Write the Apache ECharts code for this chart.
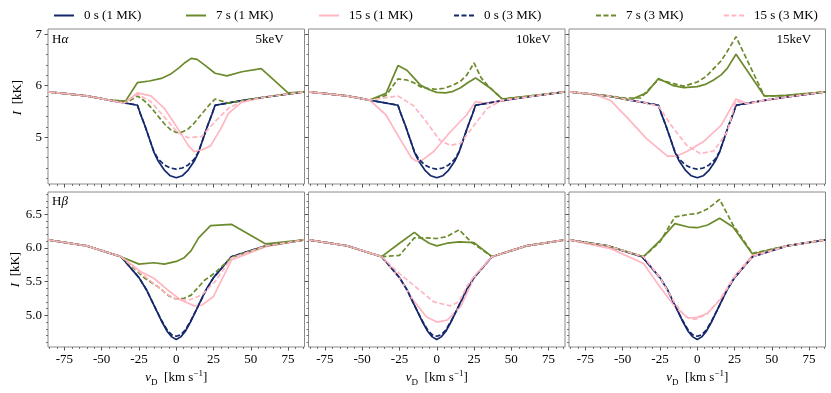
<!DOCTYPE html>
<html><head><meta charset="utf-8">
<script src="https://cdn.jsdelivr.net/npm/echarts@6/dist/echarts.min.js"></script>
<style>html,body{margin:0;padding:0;background:#fff}#c{width:831px;height:393px}</style>
</head><body><div id="c"></div>
<script>
// ---------- DATA: [v_D (km/s), I (kK)] ----------
// H-alpha, pre-flare (same in all columns)
const ha_0s_1MK = [[-86,5.88],[-60,5.80],[-45,5.72],[-26,5.62],[-24,5.45],[-21,5.22],[-18,4.97],[-15,4.71],[-12,4.53],[-8,4.36],[-4,4.25],[0,4.21],[4,4.25],[8,4.36],[12,4.53],[15,4.71],[18,4.97],[21,5.22],[24,5.45],[26,5.62],[44,5.71],[60,5.78],[86,5.88]];
const ha_0s_3MK = [[-86,5.88],[-60,5.80],[-45,5.72],[-26,5.62],[-24,5.45],[-21,5.22],[-18,4.97],[-15,4.72],[-12,4.57],[-8,4.46],[-4,4.40],[0,4.38],[4,4.40],[8,4.46],[12,4.57],[15,4.72],[18,4.97],[21,5.22],[24,5.45],[26,5.62],[44,5.71],[60,5.78],[86,5.88]];
// H-alpha 5 keV
const ha5_7s_1MK = [[-86,5.88],[-60,5.80],[-45,5.72],[-34,5.70],[-26,6.06],[-18,6.09],[-10,6.14],[-4,6.22],[2,6.35],[6,6.45],[10,6.53],[14,6.51],[20,6.38],[26,6.24],[34,6.19],[44,6.27],[57,6.33],[75,5.86],[86,5.88]];
const ha5_7s_3MK = [[-86,5.88],[-60,5.80],[-45,5.72],[-32,5.69],[-26,5.80],[-22,5.72],[-17,5.58],[-12,5.40],[-8,5.26],[-4,5.15],[0,5.09],[4,5.10],[8,5.16],[12,5.27],[17,5.45],[22,5.62],[26,5.74],[35,5.66],[44,5.71],[60,5.78],[86,5.88]];
const ha5_15s_1MK = [[-86,5.88],[-60,5.80],[-45,5.72],[-35,5.66],[-26,5.86],[-17,5.80],[-8,5.56],[1,5.17],[8,4.84],[12,4.72],[17,4.75],[23,4.83],[30,5.17],[35,5.46],[44,5.68],[60,5.78],[86,5.88]];
const ha5_15s_3MK = [[-86,5.88],[-60,5.80],[-45,5.72],[-35,5.66],[-26,5.83],[-17,5.69],[-8,5.39],[1,5.09],[8,4.99],[17,5.01],[26,5.30],[35,5.56],[44,5.69],[60,5.78],[86,5.88]];
// H-alpha 10 keV
const ha10_7s_1MK = [[-86,5.88],[-60,5.80],[-45,5.72],[-34,5.85],[-26,6.39],[-20,6.30],[-15,6.14],[-11,6.01],[-5,5.92],[0,5.87],[6,5.86],[11,5.89],[16,5.96],[21,6.06],[26,6.15],[30,6.07],[36,5.95],[44,5.74],[60,5.79],[86,5.88]];
const ha10_7s_3MK = [[-86,5.88],[-60,5.80],[-45,5.72],[-34,5.81],[-26,6.13],[-20,6.11],[-15,6.05],[-11,5.98],[-5,5.94],[0,5.93],[5,5.95],[11,6.01],[16,6.09],[20,6.20],[25,6.44],[30,6.14],[36,5.95],[44,5.74],[60,5.79],[86,5.88]];
const ha10_15s_1MK = [[-86,5.88],[-60,5.80],[-45,5.72],[-34,5.43],[-25,4.98],[-17,4.60],[-14,4.54],[-10,4.55],[-2,4.72],[9,5.10],[20,5.43],[26,5.69],[34,5.65],[44,5.71],[60,5.78],[86,5.88]];
const ha10_15s_3MK = [[-86,5.88],[-60,5.80],[-45,5.72],[-26,5.80],[-16,5.62],[-7,5.30],[2,4.94],[9,4.84],[16,4.88],[25,5.23],[34,5.56],[44,5.72],[60,5.78],[86,5.88]];
// H-alpha 15 keV
const ha15_7s_1MK = [[-86,5.88],[-60,5.80],[-45,5.72],[-34,5.86],[-26,6.14],[-16,6.00],[-9,5.96],[0,5.98],[6,6.03],[11,6.11],[16,6.21],[20,6.33],[26,6.61],[34,6.27],[45,5.80],[52,5.80],[60,5.81],[86,5.88]];
const ha15_7s_3MK = [[-86,5.88],[-60,5.80],[-48,5.76],[-38,5.76],[-26,6.12],[-16,6.04],[-9,5.99],[0,6.07],[6,6.18],[11,6.33],[16,6.48],[20,6.66],[26,6.95],[34,6.46],[45,5.80],[52,5.80],[60,5.81],[86,5.88]];
const ha15_15s_1MK = [[-86,5.88],[-70,5.84],[-58,5.71],[-47,5.38],[-34,4.97],[-20,4.63],[-14,4.63],[-7,4.72],[4,4.91],[16,5.23],[26,5.74],[34,5.65],[44,5.71],[60,5.78],[86,5.88]];
const ha15_15s_3MK = [[-86,5.88],[-60,5.80],[-45,5.72],[-34,5.66],[-26,5.60],[-25,5.56],[-16,5.17],[-7,4.84],[2,4.68],[11,4.73],[20,5.10],[26,5.70],[34,5.65],[44,5.71],[60,5.78],[86,5.88]];
// H-beta, pre-flare
const hb_0s_1MK = [[-86,6.12],[-60,6.03],[-37,5.87],[-25,5.56],[-20,5.38],[-15,5.15],[-10,4.92],[-6,4.76],[-3,4.68],[0,4.64],[3,4.68],[6,4.76],[10,4.92],[15,5.15],[20,5.38],[25,5.56],[37,5.87],[60,6.03],[86,6.12]];
const hb_0s_3MK = [[-86,6.12],[-60,6.03],[-37,5.87],[-25,5.56],[-20,5.38],[-15,5.15],[-10,4.93],[-6,4.78],[-3,4.71],[0,4.69],[3,4.71],[6,4.78],[10,4.93],[15,5.15],[20,5.38],[25,5.56],[37,5.87],[60,6.03],[86,6.12]];
// H-beta 5 keV
const hb5_7s_1MK = [[-86,6.12],[-60,6.03],[-37,5.87],[-25,5.76],[-15,5.78],[-8,5.76],[0,5.80],[5,5.85],[10,5.96],[15,6.15],[23,6.33],[37,6.35],[60,6.06],[86,6.12]];
const hb5_7s_3MK = [[-86,6.12],[-60,6.03],[-37,5.87],[-21,5.55],[-12,5.42],[-5,5.29],[0,5.24],[5,5.25],[10,5.30],[19,5.52],[26,5.63],[37,5.86],[60,6.03],[86,6.12]];
const hb5_15s_1MK = [[-86,6.12],[-60,6.03],[-37,5.87],[-24,5.65],[-15,5.55],[-6,5.38],[3,5.23],[12,5.14],[17,5.15],[25,5.28],[37,5.82],[60,6.02],[86,6.12]];
const hb5_15s_3MK = [[-86,6.12],[-60,6.03],[-37,5.87],[-24,5.63],[-15,5.47],[-6,5.31],[0,5.24],[8,5.22],[17,5.30],[26,5.50],[37,5.85],[60,6.03],[86,6.12]];
// H-beta 10 keV
const hb10_7s_1MK = [[-86,6.12],[-60,6.03],[-37,5.87],[-25,6.07],[-15,6.23],[-10,6.14],[-5,6.07],[0,6.03],[7,6.07],[15,6.09],[25,6.08],[37,5.87],[60,6.03],[86,6.12]];
const hb10_7s_3MK = [[-86,6.12],[-60,6.03],[-37,5.87],[-25,5.89],[-15,6.15],[-8,6.15],[0,6.14],[7,6.17],[15,6.27],[23,6.09],[37,5.87],[60,6.03],[86,6.12]];
const hb10_15s_1MK = [[-86,6.12],[-60,6.03],[-37,5.87],[-25,5.55],[-16,5.23],[-7,4.98],[0,4.90],[7,4.93],[16,5.13],[25,5.56],[37,5.87],[60,6.03],[86,6.12]];
const hb10_15s_3MK = [[-86,6.12],[-60,6.03],[-37,5.87],[-25,5.62],[-13,5.40],[-2,5.20],[9,5.14],[15,5.20],[20,5.42],[25,5.58],[37,5.87],[60,6.03],[86,6.12]];
// H-beta 15 keV
const hb15_7s_1MK = [[-86,6.12],[-60,6.03],[-36,5.87],[-25,6.11],[-15,6.36],[-6,6.31],[0,6.30],[7,6.34],[15,6.44],[24,6.31],[37,5.91],[60,6.03],[86,6.12]];
const hb15_7s_3MK = [[-86,6.12],[-60,6.03],[-36,5.87],[-25,6.09],[-15,6.46],[-5,6.50],[0,6.51],[7,6.58],[15,6.72],[24,6.34],[37,5.92],[60,6.03],[86,6.12]];
const hb15_15s_1MK = [[-86,6.12],[-58,5.99],[-36,5.77],[-25,5.42],[-15,5.13],[-6,4.96],[0,4.97],[7,5.03],[16,5.25],[25,5.58],[37,5.89],[60,6.03],[86,6.12]];
const hb15_15s_3MK = [[-86,6.12],[-60,6.03],[-36,5.87],[-25,5.56],[-15,5.18],[-8,4.98],[-3,4.94],[0,4.95],[6,5.01],[15,5.23],[25,5.57],[37,5.87],[60,6.03],[86,6.12]];

const SERIES_NAMES = ['0 s (1 MK)','7 s (1 MK)','15 s (1 MK)','0 s (3 MK)','7 s (3 MK)','15 s (3 MK)'];
const PANEL_LABELS = ['5keV','10keV','15keV'];
const X_TICKS = [-75,-50,-25,0,25,50,75];
const X_MINOR = [-85,-80,-70,-65,-60,-55,-45,-40,-35,-30,-20,-15,-10,-5,5,10,15,20,30,35,40,45,55,60,65,70,80,85];
const YA_TICKS = [5,6,7];
const YA_MINOR = [4.2,4.4,4.6,4.8,5.2,5.4,5.6,5.8,6.2,6.4,6.6,6.8];
const YB_TICKS = [5.0,5.5,6.0,6.5];
const YB_MINOR = [4.6,4.7,4.8,4.9,5.1,5.2,5.3,5.4,5.6,5.7,5.8,5.9,6.1,6.2,6.3,6.4,6.6,6.7,6.8];

const PANELS = [
  [ha_0s_1MK, ha5_7s_1MK, ha5_15s_1MK, ha_0s_3MK, ha5_7s_3MK, ha5_15s_3MK],
  [ha_0s_1MK, ha10_7s_1MK, ha10_15s_1MK, ha_0s_3MK, ha10_7s_3MK, ha10_15s_3MK],
  [ha_0s_1MK, ha15_7s_1MK, ha15_15s_1MK, ha_0s_3MK, ha15_7s_3MK, ha15_15s_3MK],
  [hb_0s_1MK, hb5_7s_1MK, hb5_15s_1MK, hb_0s_3MK, hb5_7s_3MK, hb5_15s_3MK],
  [hb_0s_1MK, hb10_7s_1MK, hb10_15s_1MK, hb_0s_3MK, hb10_7s_3MK, hb10_15s_3MK],
  [hb_0s_1MK, hb15_7s_1MK, hb15_15s_1MK, hb_0s_3MK, hb15_7s_3MK, hb15_15s_3MK]
];

// ---------- STYLE / LAYOUT ----------
const FONT = '"Liberation Serif", "DejaVu Serif", serif';
const COLORS = ['#14286b', '#6b8a2b', '#ffb6c1', '#14286b', '#6b8a2b', '#ffb6c1'];
const DASHED = [false, false, false, true, true, true];
const GL = [48, 308.5, 569], GW = 256.5;
const GT = [29, 192], GH = 155;
const YR = [[4.09, 7.1], [4.53, 6.83]];
const FRAME = '#8a8a8a', TICK = '#555';

const grids = [], xAxes = [], yAxes = [], series = [], graphics = [];
for (let p = 0; p < 6; p++) {
  const row = Math.floor(p / 3), col = p % 3;
  grids.push({left: GL[col], top: GT[row], width: GW, height: GH, show: true, borderColor: FRAME, borderWidth: 1, containLabel: false, outerBoundsMode: 'none'});
  const showXL = row === 1, showYL = col === 0;
  const xi = xAxes.length, yi = yAxes.length;
  xAxes.push({
    type: 'value', gridIndex: p, min: -86, max: 86, position: 'bottom',
    axisLine: {show: false, onZero: false}, splitLine: {show: false},
    axisTick: {show: true, inside: false, length: 3.5, customValues: X_TICKS, lineStyle: {color: TICK, width: 1}},
    axisLabel: {show: showXL, customValues: X_TICKS, margin: 6, color: '#000', fontFamily: FONT, fontSize: 13},
    name: showXL ? '{i|v}{sub|D}  [km s{sup|−1}]' : '', nameLocation: 'middle', nameGap: 22,
    nameTextStyle: {color: '#000', fontFamily: FONT, fontSize: 13, lineHeight: 18,
      rich: {i: {fontStyle: 'italic', fontFamily: FONT, fontSize: 13, lineHeight: 18},
             sub: {fontFamily: FONT, fontSize: 9, lineHeight: 9, verticalAlign: 'bottom'},
             sup: {fontFamily: FONT, fontSize: 9, lineHeight: 9, verticalAlign: 'top'}}}
  });
  xAxes.push({
    type: 'value', gridIndex: p, min: -86, max: 86, position: 'bottom',
    axisLine: {show: false, onZero: false}, splitLine: {show: false}, axisLabel: {show: false},
    axisTick: {show: true, inside: false, length: 2, customValues: X_MINOR, lineStyle: {color: TICK, width: 0.8}}
  });
  const yt = row === 0 ? YA_TICKS : YB_TICKS, ym = row === 0 ? YA_MINOR : YB_MINOR;
  yAxes.push({
    type: 'value', gridIndex: p, min: YR[row][0], max: YR[row][1], position: 'left',
    axisLine: {show: false, onZero: false}, splitLine: {show: false},
    axisTick: {show: true, inside: false, length: 3.5, customValues: yt, lineStyle: {color: TICK, width: 1}},
    axisLabel: {show: showYL, customValues: yt, margin: 6, color: '#000', fontFamily: FONT, fontSize: 13,
      formatter: v => row === 0 ? String(Math.round(v)) : v.toFixed(1)},
    name: showYL ? '{i|I}  [kK]' : '', nameLocation: 'middle', nameGap: 24, nameRotate: 90,
    nameTextStyle: {color: '#000', fontFamily: FONT, fontSize: 13, padding: row === 0 ? [0, 0, 0, 18] : 0,
      rich: {i: {fontStyle: 'italic', fontFamily: FONT, fontSize: 13}}}
  });
  yAxes.push({
    type: 'value', gridIndex: p, min: YR[row][0], max: YR[row][1], position: 'left',
    axisLine: {show: false, onZero: false}, splitLine: {show: false}, axisLabel: {show: false},
    axisTick: {show: true, inside: false, length: 2, customValues: ym, lineStyle: {color: TICK, width: 0.8}}
  });
  PANELS[p].forEach((d, k) => {
    series.push({
      type: 'line', name: SERIES_NAMES[k], xAxisIndex: xi, yAxisIndex: yi, data: d,
      symbol: 'none', silent: true, animation: false, z: 2 + k,
      lineStyle: {color: COLORS[k], width: 1.7, type: DASHED[k] ? [5, 2.5] : 'solid'},
      itemStyle: {color: COLORS[k]}
    });
  });
  if (row === 0) {
    graphics.push({type: 'text', left: GL[col] + GW - 9 - 40, top: GT[row] + 4,
      style: {text: PANEL_LABELS[col], x: 0, y: 0, font: '13px ' + FONT, fill: '#000', width: 40, align: 'right'}});
  }
}
graphics.push({type: 'text', left: GL[0] + 4, top: GT[0] + 4,
  style: {text: '{n|H}{g|α}', rich: {n: {font: '13px ' + FONT, fill: '#000'}, g: {font: 'italic 13px ' + FONT, fill: '#000'}}}});
graphics.push({type: 'text', left: GL[0] + 4, top: GT[1] + 3,
  style: {text: '{n|H}{g|β}', rich: {n: {font: '13px ' + FONT, fill: '#000'}, g: {font: 'italic 13px ' + FONT, fill: '#000'}}}});

const LEG_X = [53, 185, 318, 453, 595, 723];
const legends = SERIES_NAMES.map((n, k) => ({
  data: [n], left: LEG_X[k], top: 9, padding: 0, itemWidth: 20, itemHeight: 10,
  selectedMode: false, itemStyle: {opacity: 0, color: 'transparent', borderWidth: 0},
  textStyle: {fontFamily: FONT, fontSize: 13, color: '#000', padding: [0, 0, 0, 5]}
}));

const chart = echarts.init(document.getElementById('c'), null, {renderer: 'canvas'});
chart.setOption({
  backgroundColor: '#fff', animation: false,
  grid: grids, xAxis: xAxes, yAxis: yAxes, series: series, legend: legends, graphic: graphics
});
</script></body></html>
